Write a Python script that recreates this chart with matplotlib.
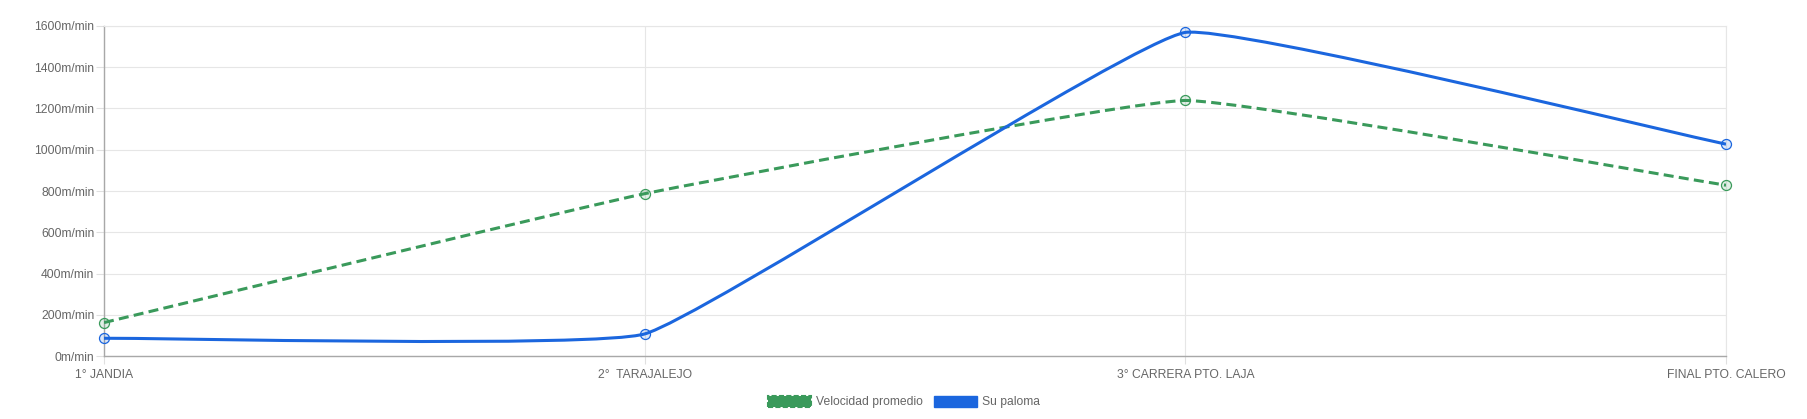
import numpy as np
import matplotlib
matplotlib.use("Agg")
import matplotlib.pyplot as plt
from matplotlib.path import Path
from matplotlib.patches import PathPatch, Patch

# Data
etapas = ["1° JANDIA", "2°  TARAJALEJO", "3° CARRERA PTO. LAJA", "FINAL PTO. CALERO"]
velocidad_promedio = [162, 787, 1239, 828]
su_paloma = [86, 107, 1569, 1027]
y_ticks = [0, 200, 400, 600, 800, 1000, 1200, 1400, 1600]

verde = "#3a9a5b"
azul = "#1b66de"
gris_texto = "#666666"

plt.rcParams['font.family'] = ['Liberation Sans', 'DejaVu Sans']
plt.rcParams['lines.scale_dashes'] = False

fig = plt.figure(figsize=(18.08, 4.19), dpi=100)
ax = fig.add_axes([104 / 1808, 1 - 356 / 419, (1726 - 104) / 1808, (356 - 26) / 419])
ax.set_xlim(0, len(etapas) - 1)
ax.set_ylim(0, 1600)


def spline_path(xs, ys, tension=0.1):
    # bezier control points like chart.js v2, computed in pixel space
    pts = ax.transData.transform(np.column_stack([xs, ys]))
    bb = ax.bbox
    n = len(pts)
    ctrl_prev = []
    ctrl_next = []
    for i in range(n):
        prev = pts[max(i - 1, 0)]
        cur = pts[i]
        nxt = pts[min(i + 1, n - 1)]
        d01 = np.hypot(*(cur - prev))
        d12 = np.hypot(*(nxt - cur))
        s01 = d01 / (d01 + d12)
        s12 = d12 / (d01 + d12)
        fa = tension * s01
        fb = tension * s12
        cp = cur - fa * (nxt - prev)
        cn = cur + fb * (nxt - prev)
        # cap inside chart area
        cp = np.clip(cp, [bb.x0, bb.y0], [bb.x1, bb.y1])
        cn = np.clip(cn, [bb.x0, bb.y0], [bb.x1, bb.y1])
        ctrl_prev.append(cp)
        ctrl_next.append(cn)
    verts = [pts[0]]
    codes = [Path.MOVETO]
    for i in range(1, n):
        verts += [ctrl_next[i - 1], ctrl_prev[i], pts[i]]
        codes += [Path.CURVE4] * 3
    inv = ax.transData.inverted()
    return Path(inv.transform(np.array(verts)), codes)


p_verde = PathPatch(spline_path(range(len(etapas)), velocidad_promedio), fill=False,
                    edgecolor=verde, lw=2.2, linestyle=(0, (7.2, 3.8)), zorder=3)
p_azul = PathPatch(spline_path(range(len(etapas)), su_paloma), fill=False,
                   edgecolor=azul, lw=2.2, zorder=4)
ax.add_patch(p_verde)
ax.add_patch(p_azul)

ax.plot(range(len(etapas)), velocidad_promedio, linestyle="none", marker="o", markersize=7.2,
        markerfacecolor=(0.23, 0.6, 0.36, 0.15), markeredgecolor=verde, markeredgewidth=0.9,
        zorder=5, clip_on=False)
ax.plot(range(len(etapas)), su_paloma, linestyle="none", marker="o", markersize=7.2,
        markerfacecolor=(0.1, 0.4, 0.87, 0.15), markeredgecolor=azul, markeredgewidth=0.9,
        zorder=6, clip_on=False)

ax.set_yticks(y_ticks)
ax.set_yticklabels(["{}m/min".format(v) for v in y_ticks])
ax.set_xticks(range(len(etapas)))
ax.set_xticklabels(etapas)
ax.tick_params(axis="both", colors="#e0e0e0", labelcolor=gris_texto, labelsize=8.7,
               length=6, width=0.8)
ax.tick_params(axis="x", pad=3)
ax.tick_params(axis="y", pad=1)
ax.grid(True, color="#e6e6e6", linewidth=0.8)
ax.set_axisbelow(True)
for lado in ["top", "right"]:
    ax.spines[lado].set_color("#e6e6e6")
    ax.spines[lado].set_linewidth(0.8)
for lado in ["left", "bottom"]:
    ax.spines[lado].set_color("#a8a8a8")
    ax.spines[lado].set_linewidth(1.0)

handles = [Patch(facecolor=verde, edgecolor=verde, linestyle="--", linewidth=1.5),
           Patch(facecolor=azul, edgecolor=azul)]
fig.legend(handles, ["Velocidad promedio", "Su paloma"], loc="center",
           bbox_to_anchor=(0.5, 1 - 402 / 419), ncol=2, frameon=False,
           fontsize=8.7, labelcolor=gris_texto, handlelength=3.6, handleheight=1.1,
           handletextpad=0.4, columnspacing=0.9)

fig.savefig("out.png", dpi=100, facecolor="white")
